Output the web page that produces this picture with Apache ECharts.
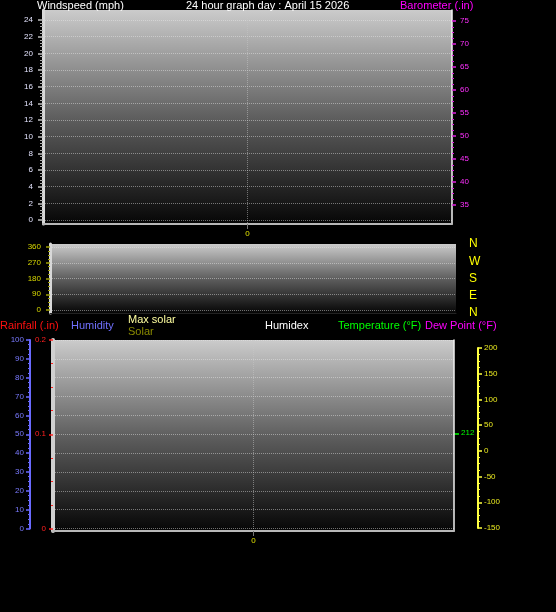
<!DOCTYPE html>
<html>
<head>
<meta charset="utf-8">
<script src="https://cdn.jsdelivr.net/npm/echarts@6/dist/echarts.min.js"></script>
<style>
  html, body { margin: 0; padding: 0; background: #000; }
  #chart { width: 556px; height: 612px; }
</style>
</head>
<body>
<div id="chart"></div>
<script>
// x categories: only the single hour mark "0" in the middle is labelled
const hourCats = ['', '0', ''];

// tick labels
const windTicks = [0, 24, 2];          // min, max, interval (mph)
const baroTicks = [35, 75, 5];         // barometer scale
const dirTicks = [0, 360, 90];         // wind direction degrees
const compass = ['N', 'E', 'S', 'W', 'N'];
const humTicks = [0, 100, 10];
const rainTicks = [0, 0.2, 0.1];
const tempTicks = [-150, 200, 50];

// series values (graph for the day is empty)
const windSpeed = [];
const barometer = [];
const windDir = [];
const rainfall = [];
const humidity = [];
const maxSolar = [];
const solar = [];
const humidex = [];
const temperature = [];
const dewPoint = [];

const FONT = 'Liberation Sans, Arial, sans-serif';

function panelBg() {
    return {
        type: 'linear', x: 0, y: 0, x2: 0, y2: 1,
        colorStops: [
            { offset: 0, color: '#cbcbcb' },
            { offset: 0.5, color: '#5f5f5f' },
            { offset: 1, color: '#060606' }
        ]
    };
}

const dotted = { show: true, lineStyle: { color: 'rgba(235,235,235,0.45)', type: 'dotted', width: 1 } };

function hiddenX(grid) {
    return { type: 'category', gridIndex: grid, data: hourCats, boundaryGap: false, show: false };
}

function labelX(grid) {
    return {
        type: 'category', gridIndex: grid, data: hourCats, boundaryGap: false, z: 3,
        axisLine: { show: true, lineStyle: { color: '#b8b8b8', width: 2 } },
        axisTick: { show: true, interval: (i) => i === 1, length: 5, lineStyle: { color: '#777' } },
        axisLabel: { interval: (i) => i === 1, color: '#e0e000', fontSize: 8, fontFamily: FONT, margin: 6 },
        splitLine: { show: true, interval: (i) => i === 1, lineStyle: { color: 'rgba(200,200,200,0.5)', type: 'dotted' } }
    };
}

function borderY(grid, pos, color, width) {
    return {
        type: 'value', gridIndex: grid, position: pos, min: 0, max: 1, z: 3,
        axisLine: { show: true, lineStyle: { color: color, width: width } },
        axisTick: { show: false }, axisLabel: { show: false }, splitLine: { show: false }
    };
}

function scaleY(grid, ticks, opts) {
    return Object.assign({
        type: 'value', gridIndex: grid, min: ticks[0], max: ticks[1], interval: ticks[2], z: 3,
        axisLine: { show: false },
        axisTick: { show: true, length: 4, lineStyle: { color: opts.tickColor, width: 1.5 } },
        minorTick: { show: true, splitNumber: 4, length: 2, lineStyle: { color: opts.tickColor } },
        axisLabel: { color: opts.labelColor, fontSize: 8, fontFamily: FONT, margin: opts.margin || 6 },
        splitLine: { show: false }
    }, opts.extra || {});
}

const chart = echarts.init(document.getElementById('chart'));

const option = {
    backgroundColor: '#000',
    animation: false,
    grid: [
        // top panel
        { left: 43, top: 10, width: 409, height: 214, show: true, backgroundColor: panelBg(), borderWidth: 0 },
        { left: 43, top: 20, width: 409, height: 200 },
        { left: 43, top: 21, width: 409, height: 184 },
        // direction panel
        { left: 50, top: 244, width: 406, height: 69, show: true, backgroundColor: panelBg(), borderWidth: 0 },
        { left: 50, top: 247, width: 406, height: 63 },
        // bottom panel
        { left: 53, top: 340, width: 401, height: 191, show: true, backgroundColor: panelBg(), borderWidth: 0 },
        { left: 53, top: 340, width: 401, height: 188.5 },
        { left: 53, top: 348, width: 401, height: 180 }
    ],
    xAxis: [
        labelX(0), hiddenX(1), hiddenX(2),
        Object.assign(labelX(3), { axisLabel: { show: false }, axisTick: { show: false }, splitLine: { show: false },
            axisLine: { show: true, lineStyle: { color: '#222', width: 1 } } }),
        hiddenX(4),
        labelX(5), hiddenX(6), hiddenX(7)
    ],
    yAxis: [
        // 0,1: top panel borders
        borderY(0, 'left', '#d8d8d8', 3),
        borderY(0, 'right', '#f4f4f4', 1.5),
        // 2: windspeed
        scaleY(1, windTicks, { tickColor: '#bdbdbd', labelColor: '#e4e4ff', margin: 10,
            extra: { position: 'left', splitLine: dotted,
                axisTick: { show: true, length: 5, lineStyle: { color: '#bdbdbd', width: 1.5 } },
                minorTick: { show: true, splitNumber: 5, length: 3, lineStyle: { color: '#aaa' } } } }),
        // 3: barometer
        scaleY(2, baroTicks, { tickColor: '#e020e0', labelColor: '#ff30ff', margin: 8, extra: { position: 'right' } }),
        // 4: direction panel compass letters
        {
            type: 'category', gridIndex: 3, position: 'right', data: compass, boundaryGap: false, z: 3,
            axisLine: { show: false }, axisTick: { show: false }, splitLine: { show: false },
            axisLabel: { color: '#ffff00', fontSize: 12, fontFamily: FONT, margin: 13 }
        },
        borderY(3, 'left', '#d8d8d8', 3),
        // 6: direction degrees
        scaleY(4, dirTicks, { tickColor: '#a0a000', labelColor: '#d8d800', margin: 9,
            extra: { position: 'left', splitLine: dotted } }),
        // 7,8: bottom panel borders
        borderY(5, 'left', '#d0d0d0', 4),
        borderY(5, 'right', '#f0f0f0', 1.5),
        // 9: humidity
        scaleY(6, humTicks, { tickColor: '#6a6aff', labelColor: '#7a7aff',
            extra: { position: 'left', offset: 23, splitLine: dotted,
                axisLine: { show: true, lineStyle: { color: '#6a6aff', width: 2 } } } }),
        // 10: rainfall
        scaleY(6, rainTicks, { tickColor: '#ff2020', labelColor: '#ff2020', margin: 7,
            extra: { position: 'left', offset: 0 } }),
        // 11: temperature
        scaleY(7, tempTicks, { tickColor: '#ffff40', labelColor: '#eaea20',
            extra: { position: 'right', offset: 24,
                axisLine: { show: true, lineStyle: { color: '#ffff40', width: 2 } } } })
    ],
    series: [
        { name: 'Windspeed', type: 'line', xAxisIndex: 1, yAxisIndex: 2, data: windSpeed, showSymbol: false },
        { name: 'Barometer', type: 'line', xAxisIndex: 2, yAxisIndex: 3, data: barometer, showSymbol: false },
        { name: 'Direction', type: 'scatter', xAxisIndex: 4, yAxisIndex: 6, data: windDir },
        { name: 'Rainfall', type: 'line', xAxisIndex: 6, yAxisIndex: 10, data: rainfall, showSymbol: false },
        { name: 'Humidity', type: 'line', xAxisIndex: 6, yAxisIndex: 9, data: humidity, showSymbol: false },
        { name: 'Max solar', type: 'line', xAxisIndex: 6, yAxisIndex: 9, data: maxSolar, showSymbol: false },
        { name: 'Solar', type: 'line', xAxisIndex: 6, yAxisIndex: 9, data: solar, showSymbol: false },
        { name: 'Humidex', type: 'line', xAxisIndex: 7, yAxisIndex: 11, data: humidex, showSymbol: false },
        { name: 'Temperature', type: 'line', xAxisIndex: 7, yAxisIndex: 11, data: temperature, showSymbol: false },
        { name: 'Dew Point', type: 'line', xAxisIndex: 7, yAxisIndex: 11, data: dewPoint, showSymbol: false }
    ],
    graphic: [
        { type: 'text', left: 37, top: 0, style: { text: 'Windspeed (mph)', fill: '#fff', font: '11px ' + FONT } },
        { type: 'text', left: 186, top: 0, style: { text: '24 hour graph day : April 15 2026', fill: '#fff', font: '11px ' + FONT } },
        { type: 'text', left: 400, top: 0, style: { text: 'Barometer (.in)', fill: '#ff00ff', font: '11px ' + FONT } },
        { type: 'text', left: 0, top: 320, style: { text: 'Rainfall (.in)', fill: '#ff1010', font: '11px ' + FONT } },
        { type: 'text', left: 71, top: 320, style: { text: 'Humidity', fill: '#7070ff', font: '11px ' + FONT } },
        { type: 'text', left: 128, top: 314, style: { text: 'Max solar', fill: '#ffffa0', font: '11px ' + FONT } },
        { type: 'text', left: 128, top: 326, style: { text: 'Solar', fill: '#8a8a00', font: '11px ' + FONT } },
        { type: 'text', left: 265, top: 320, style: { text: 'Humidex', fill: '#fff', font: '11px ' + FONT } },
        { type: 'text', left: 338, top: 320, style: { text: 'Temperature (°F)', fill: '#00ff00', font: '11px ' + FONT } },
        { type: 'text', left: 425, top: 320, style: { text: 'Dew Point (°F)', fill: '#ff00ff', font: '11px ' + FONT } },
        { type: 'line', shape: { x1: 454, y1: 434, x2: 459, y2: 434 }, style: { stroke: '#00c000', lineWidth: 2 } },
        { type: 'text', left: 461, top: 429, style: { text: '212', fill: '#00ff00', font: '8px ' + FONT } }
    ]
};

chart.setOption(option);
</script>
</body>
</html>
